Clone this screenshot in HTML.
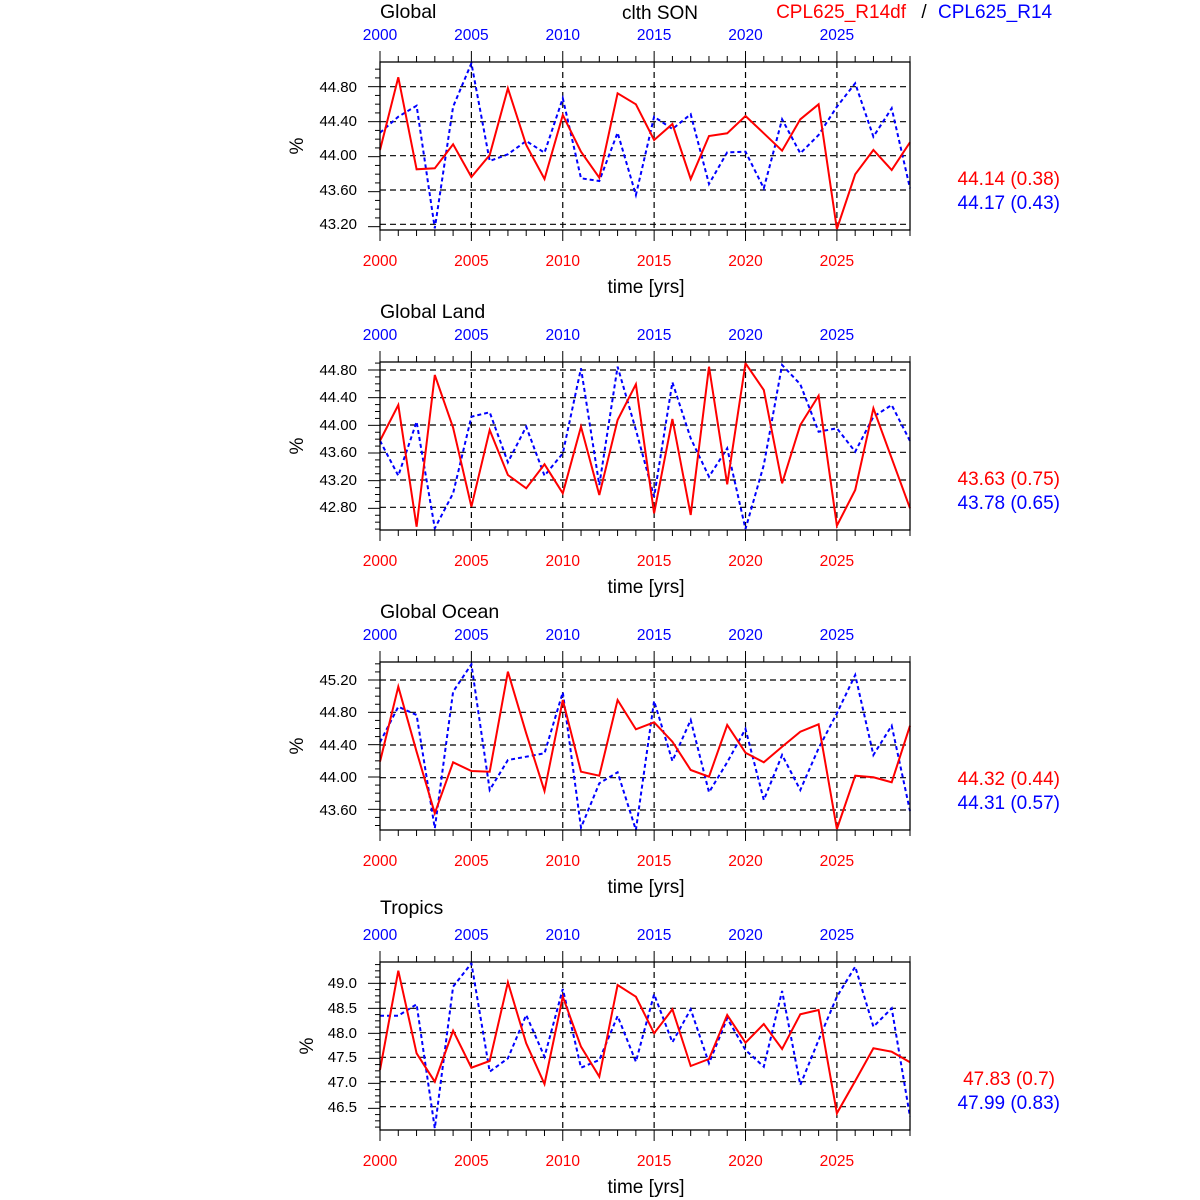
<!DOCTYPE html>
<html><head><meta charset="utf-8"><style>
html,body{margin:0;padding:0;background:#fff;}
svg{display:block;font-family:"Liberation Sans",sans-serif;}
</style></head><body>
<svg id="s" width="1200" height="1200" xmlns="http://www.w3.org/2000/svg">
<g id="plots"></g>
<text x="660" y="19" font-size="19" text-anchor="middle">clth SON</text>
<text x="906" y="18" font-size="19" text-anchor="end" fill="#ff0000">CPL625_R14df</text>
<text x="924" y="18" font-size="19" text-anchor="middle">/</text>
<text x="938" y="18" font-size="19" fill="#0000ff">CPL625_R14</text>

<g font-size="19.5"><text x="380" y="18">Global</text><text x="380" y="318">Global Land</text><text x="380" y="618">Global Ocean</text><text x="380" y="914">Tropics</text></g>

<g font-size="15.5" fill="#0000ff" text-anchor="middle">
<text x="380" y="40">2000</text><text x="471.4" y="40">2005</text><text x="562.8" y="40">2010</text><text x="654.1" y="40">2015</text><text x="745.5" y="40">2020</text><text x="836.9" y="40">2025</text>
<text x="380" y="340">2000</text><text x="471.4" y="340">2005</text><text x="562.8" y="340">2010</text><text x="654.1" y="340">2015</text><text x="745.5" y="340">2020</text><text x="836.9" y="340">2025</text>
<text x="380" y="640">2000</text><text x="471.4" y="640">2005</text><text x="562.8" y="640">2010</text><text x="654.1" y="640">2015</text><text x="745.5" y="640">2020</text><text x="836.9" y="640">2025</text>
<text x="380" y="940">2000</text><text x="471.4" y="940">2005</text><text x="562.8" y="940">2010</text><text x="654.1" y="940">2015</text><text x="745.5" y="940">2020</text><text x="836.9" y="940">2025</text>
</g>
<g font-size="15.5" fill="#ff0000" text-anchor="middle">
<text x="380" y="266">2000</text><text x="471.4" y="266">2005</text><text x="562.8" y="266">2010</text><text x="654.1" y="266">2015</text><text x="745.5" y="266">2020</text><text x="836.9" y="266">2025</text>
<text x="380" y="566">2000</text><text x="471.4" y="566">2005</text><text x="562.8" y="566">2010</text><text x="654.1" y="566">2015</text><text x="745.5" y="566">2020</text><text x="836.9" y="566">2025</text>
<text x="380" y="866">2000</text><text x="471.4" y="866">2005</text><text x="562.8" y="866">2010</text><text x="654.1" y="866">2015</text><text x="745.5" y="866">2020</text><text x="836.9" y="866">2025</text>
<text x="380" y="1166">2000</text><text x="471.4" y="1166">2005</text><text x="562.8" y="1166">2010</text><text x="654.1" y="1166">2015</text><text x="745.5" y="1166">2020</text><text x="836.9" y="1166">2025</text>
</g>
<g font-size="19" text-anchor="middle">
<text x="646" y="293">time [yrs]</text><text x="646" y="593">time [yrs]</text><text x="646" y="893">time [yrs]</text><text x="646" y="1193">time [yrs]</text>
</g>
<g font-size="19" text-anchor="middle">
<text transform="translate(303,146) rotate(-90)">%</text>
<text transform="translate(303,446) rotate(-90)">%</text>
<text transform="translate(303,746) rotate(-90)">%</text>
<text transform="translate(313,1046) rotate(-90)">%</text>
</g>
<g font-size="15" text-anchor="end">
<text x="357" y="92">44.80</text><text x="357" y="126">44.40</text><text x="357" y="160">44.00</text><text x="357" y="195">43.60</text><text x="357" y="229">43.20</text>
<text x="357" y="375">44.80</text><text x="357" y="402">44.40</text><text x="357" y="430">44.00</text><text x="357" y="457">43.60</text><text x="357" y="485">43.20</text><text x="357" y="512">42.80</text>
<text x="357" y="685">45.20</text><text x="357" y="717">44.80</text><text x="357" y="750">44.40</text><text x="357" y="782">44.00</text><text x="357" y="815">43.60</text>
<text x="357" y="988">49.0</text><text x="357" y="1013">48.5</text><text x="357" y="1038">48.0</text><text x="357" y="1062">47.5</text><text x="357" y="1087">47.0</text><text x="357" y="1112">46.5</text>
</g>
<g font-size="19" text-anchor="end">
<text x="1060" y="185" fill="#ff0000">44.14 (0.38)</text><text x="1060" y="209" fill="#0000ff">44.17 (0.43)</text>
<text x="1060" y="485" fill="#ff0000">43.63 (0.75)</text><text x="1060" y="509" fill="#0000ff">43.78 (0.65)</text>
<text x="1060" y="785" fill="#ff0000">44.32 (0.44)</text><text x="1060" y="809" fill="#0000ff">44.31 (0.57)</text>
<text x="1055" y="1085" fill="#ff0000">47.83 (0.7)</text><text x="1060" y="1109" fill="#0000ff">47.99 (0.83)</text>
</g>
</svg>
<script>
(function(){
var NS="http://www.w3.org/2000/svg",g=document.getElementById("plots");
function el(t,a){var e=document.createElementNS(NS,t);for(var k in a)e.setAttribute(k,a[k]);g.appendChild(e);return e;}
var P=[
{off:55,T:62,grid:[95,200,302,405,508],
r:[285,67,343,340,268,366,300,100,270,372,180,290,368,115,148,255,207,372,243,235,183,235,287,193,148,522,358,285,345,262],
b:[233,185,152,520,155,25,318,298,258,293,130,370,378,233,420,185,222,178,387,292,290,400,193,295,240,155,85,245,160,400]},
{off:355,T:362,grid:[45,128,210,292,375,457],
r:[257,150,515,60,218,455,225,360,400,328,415,215,420,195,88,475,192,480,35,388,25,105,385,210,122,512,405,160,310,460],
b:[257,362,200,520,415,185,172,322,215,362,295,40,390,35,225,425,82,250,365,280,522,330,30,88,230,220,290,185,150,258]},
{off:655,T:662,grid:[75,172,270,368,465],
r:[320,95,290,475,322,348,350,50,235,408,135,350,362,135,223,202,260,345,365,210,293,322,275,230,208,522,362,367,382,212],
b:[262,155,180,520,110,28,405,315,305,295,112,518,385,352,525,138,318,195,412,322,222,435,300,405,280,175,60,300,212,468]},
{off:955,T:962,grid:[85,160,233,307,380,455],
r:[345,47,295,380,227,338,318,82,265,387,125,275,365,90,125,235,163,333,312,180,263,207,282,178,165,475,378,280,290,322],
b:[182,182,148,520,95,25,350,310,180,305,102,338,315,183,320,118,262,163,325,190,285,335,108,390,255,125,35,215,160,485]}];
var dx=530/29;
P.forEach(function(p){
 var T=p.T,B=T+168,L=380,R=910;
 var gy=p.grid.map(function(z){return p.off+z/3;});
 gy.forEach(function(y){el("line",{x1:L,x2:R,y1:y,y2:y,stroke:"#000","stroke-width":1.2,"stroke-dasharray":"6,4"});});
 for(var i=5;i<29;i+=5){var x=L+i*dx;el("line",{x1:x,x2:x,y1:T,y2:B,stroke:"#000","stroke-width":1.2,"stroke-dasharray":"6,4"});}
 for(var i=0;i<=29;i++){var x=L+i*dx,len=(i%5==0)?11:6;
  el("line",{x1:x,x2:x,y1:B,y2:B+len,stroke:"#000","stroke-width":1});
  el("line",{x1:x,x2:x,y1:T,y2:T-len,stroke:"#000","stroke-width":1});}
 var st=(gy[1]-gy[0])/4;
 for(var y=gy[0]-4*st;y<=B+0.5;y+=st){if(y<T-0.5)continue;var k=Math.round((y-gy[0])/st),len=(k%4==0)?12:5;
  el("line",{x1:L,x2:L-len,y1:y,y2:y,stroke:"#000","stroke-width":1});}
 function pts(a){return a.map(function(z,i){return (L+i*dx).toFixed(1)+","+(p.off+z/3).toFixed(1);}).join(" ");}
 el("polyline",{points:pts(p.b),fill:"none",stroke:"#0000ff","stroke-width":2,"stroke-dasharray":"4,3"});
 el("polyline",{points:pts(p.r),fill:"none",stroke:"#ff0000","stroke-width":2});
 el("rect",{x:L,y:T,width:R-L,height:168,fill:"none",stroke:"#000","stroke-width":1.3});
});
})();
</script>
</body></html>
